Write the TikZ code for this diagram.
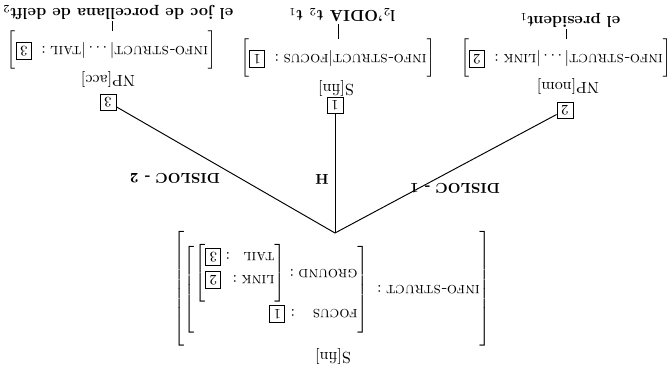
\documentclass[tikz,border=0pt]{standalone}
\newcommand{\tg}[1]{\fbox{\small #1}}
\setlength{\fboxsep}{2pt}
\setlength{\fboxrule}{0.6pt}

\begin{document}
\begin{tikzpicture}[x=0.022cm, y=-0.022cm, every node/.style={rotate=180},
  tag/.style={draw, semithick, inner sep=1pt, minimum size=10pt, font=\small},
  avm/.style={inner sep=0pt},
  lbl/.style={font=\small\bfseries},
  word/.style={inner sep=1pt, font=\bfseries}]
\useasboundingbox (0,0) rectangle (670,376);
% mother
\node (rcat) at (333,356) {S[fin]};
\node[avm] (ravm) at (332,289) {$\left[\begin{array}{@{}l@{\;\;}l@{}}
  \rule[-34pt]{0pt}{72pt}\textsc{info-struct}: & \left[\begin{array}{@{}l@{\;}l@{}}
    \rule{0pt}{16pt}\textsc{focus}\;\;\;: & \tg{1}\\[1pt]
    \textsc{ground}: & \left[\begin{array}{@{}l@{\;}l@{}}
      & \\[-5pt]
      \textsc{link}: & \tg{2}\\[2pt]
      \textsc{tail}\;\;: & \tg{3}
    \end{array}\right]
  \end{array}\right]
\end{array}\right]$};
\coordinate (J) at (335,233);
% daughters
\node[tag] (t2) at (565,110) {2};
\node (c2) at (568,86) {NP[nom]};
\node[avm] (a2) at (566,58) {$\left[\rule[-7pt]{0pt}{20pt}\textsc{info-struct}|\ldots|\textsc{link}:\ \tg{2}\right]$};
\node[word] (w2) at (570,20) {el president$_1$};
\node[tag] (t1) at (335,105) {1};
\node (c1) at (336,88) {S[fin]};
\node[avm] (a1) at (338,58) {$\left[\rule[-7pt]{0pt}{20pt}\textsc{info-struct}|\textsc{focus}:\ \tg{1}\right]$};
\node[word] (w1) at (342,15) {l$_2$'ODIA t$_2$ t$_1$};
\node[tag] (t3) at (108,102) {3};
\node (c3) at (108,79) {NP[acc]};
\node[avm] (a3) at (112,50) {$\left[\rule[-7pt]{0pt}{20pt}\textsc{info-struct}|\ldots|\textsc{tail}:\ \tg{3}\right]$};
\node[word] (w3) at (118,12) {el joc de porcellana de delft$_2$};
% branches
\draw[semithick] (J) -- (t2);
\draw[semithick] (J) -- (t1);
\draw[semithick] (J) -- (t3);
\foreach \d in {1,2,3}
{
    \draw[semithick] (a\d.south) -- (a\d.south |- w\d.north);
}
\node[lbl] (l2) at (455,188) {DISLOC - 1};
\node[lbl] (lh) at (322,179) {H};
\node[lbl] (l3) at (175,178) {DISLOC - 2};
\end{tikzpicture}
\end{document}
